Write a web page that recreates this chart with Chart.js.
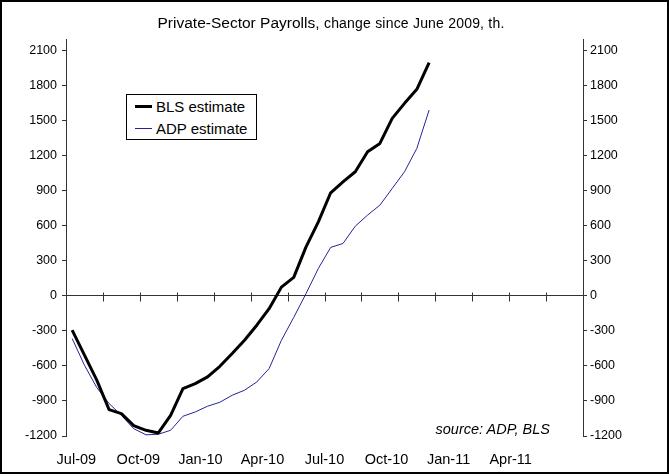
<!DOCTYPE html>
<html>
<head>
<meta charset="utf-8">
<title>Private-Sector Payrolls</title>
<script src="https://cdn.jsdelivr.net/npm/chart.js@4/dist/chart.umd.min.js"></script>
<style>
  html, body { margin: 0; padding: 0; background: #fff; }
  #wrap { position: relative; width: 669px; height: 476px; font-family: "Liberation Sans", Arial, sans-serif; color: #000; }
  #salesChart { position: absolute; left: 0; top: 0; }
  #frame { position: absolute; left: 0; top: 0; width: 665px; height: 470px; border: 2px solid #000; pointer-events: none; }
  #title { position: absolute; left: 0; top: 14px; width: 662px; text-align: center; line-height: 18px; white-space: nowrap; }
  #title .main { font-size: 15.5px; }
  #title .sub { font-size: 14px; letter-spacing: 0.2px; }
  #legend { position: absolute; left: 126px; top: 94px; border: 1px solid #000; background: #fff; padding: 0 9px 0 8px; }
  #legend .row { display: flex; align-items: center; height: 22px; font-size: 15px; }
  #legend .swatch { width: 17px; margin-right: 4px; }
  #source { position: absolute; right: 119px; top: 421px; font-size: 14.5px; font-style: italic; line-height: 17px; }
</style>
</head>
<body>
<div id="wrap">
  <canvas id="salesChart" width="669" height="476"></canvas>
  <div id="title"><span class="main">Private-Sector Payrolls,</span> <span class="sub">change since June 2009, th.</span></div>
  <div id="legend"></div>
  <div id="source">source: ADP, BLS</div>
  <div id="frame"></div>
</div>
<script>
// ========================
// DATA
// ========================
const months = [
  'Jul-09', 'Aug-09', 'Sep-09', 'Oct-09', 'Nov-09', 'Dec-09',
  'Jan-10', 'Feb-10', 'Mar-10', 'Apr-10', 'May-10', 'Jun-10',
  'Jul-10', 'Aug-10', 'Sep-10', 'Oct-10', 'Nov-10', 'Dec-10',
  'Jan-11', 'Feb-11', 'Mar-11', 'Apr-11', 'May-11', 'Jun-11',
  'Jul-11', 'Aug-11', 'Sep-11', 'Oct-11', 'Nov-11', 'Dec-11'
];

// cumulative change, thousands
const bls = [
  -293, -508, -722, -974, -1008, -1111, -1151, -1174, -1023, -794,
  -751, -694, -603, -494, -380, -251, -110, 75, 158, 420,
  634, 883, 977, 1063, 1234, 1306, 1520, 1649, 1769, 1997
];
const adp = [
  -365, -594, -785, -922, -1023, -1137, -1190, -1185, -1151, -1031,
  -994, -945, -911, -851, -808, -737, -623, -380, -185, 20,
  235, 415, 449, 597, 692, 777, 920, 1063, 1263, 1592
];

const yTicks = [-1200, -900, -600, -300, 0, 300, 600, 900, 1200, 1500, 1800, 2100];
const axisLabels = ['Jul-09', 'Oct-09', 'Jan-10', 'Apr-10', 'Jul-10', 'Oct-10', 'Jan-11', 'Apr-11'];

// ========================
// CONFIG
// ========================
const FONT = '"Liberation Sans", Arial, sans-serif';
const AXIS_COLOR = '#333';

// small crossing tick marks on the zero line, one every quarter
const zeroTicks = {
  id: 'zeroTicks',
  beforeDatasetsDraw(chart) {
    const { ctx, scales: { x, y } } = chart;
    const y0 = Math.round(y.getPixelForValue(0)) + 0.5;
    ctx.save();
    ctx.strokeStyle = AXIS_COLOR;
    ctx.lineWidth = 1;
    ctx.beginPath();
    for (let v = x.min + 3; v < x.max; v += 3) {
      const px = Math.round(x.getPixelForValue(v)) + 0.5;
      ctx.moveTo(px, y0 - 4);
      ctx.lineTo(px, y0 + 5);
    }
    ctx.stroke();
    ctx.restore();
  }
};

function yAxis(position, width, padding) {
  return {
    type: 'linear',
    position: position,
    min: -1200,
    max: 2200,
    afterBuildTicks: s => { s.ticks = yTicks.map(v => ({ value: v })); },
    afterFit: s => { s.width = width; },
    grid: { drawOnChartArea: false, tickLength: 4, tickColor: AXIS_COLOR },
    border: { color: AXIS_COLOR },
    ticks: {
      color: '#000',
      padding: padding,
      font: { family: FONT, size: 12.5 },
      callback: v => String(v)
    }
  };
}

// ========================
// CHART
// ========================
const ctx = document.getElementById('salesChart').getContext('2d');
const payrollChart = new Chart(ctx, {
  type: 'line',
  data: {
    datasets: [
      {
        label: 'BLS estimate',
        data: months.map((m, i) => ({ x: i, y: bls[i] })),
        borderColor: '#000',
        borderWidth: 3,
        borderJoinStyle: 'round',
        pointRadius: 0,
        xAxisID: 'x',
        yAxisID: 'y'
      },
      {
        label: 'ADP estimate',
        data: months.map((m, i) => ({ x: i, y: adp[i] })),
        borderColor: '#23239b',
        borderWidth: 1,
        pointRadius: 0,
        xAxisID: 'x',
        yAxisID: 'y'
      }
    ]
  },
  options: {
    responsive: false,
    animation: false,
    devicePixelRatio: 1,
    layout: { padding: { top: 39, left: 0, right: 0, bottom: 0 } },
    plugins: {
      legend: { display: false },
      title: { display: false },
      tooltip: { enabled: false }
    },
    scales: {
      // monthly slots, drawn as the zero line
      x: {
        type: 'linear',
        min: -0.5,
        max: 41.5,
        position: { y: 0 },
        ticks: { display: false },
        grid: { drawOnChartArea: false, drawTicks: false },
        border: { color: AXIS_COLOR }
      },
      // quarter labels along the bottom
      xl: {
        type: 'linear',
        position: 'bottom',
        min: -0.5,
        max: 24.5,
        afterBuildTicks: s => { s.ticks = axisLabels.map((t, i) => ({ value: i * 3 })); },
        afterFit: s => { s.height = 40; },
        grid: { display: false, drawTicks: false },
        border: { display: false },
        ticks: {
          autoSkip: false,
          maxRotation: 0,
          padding: 15,
          color: '#000',
          font: { family: FONT, size: 14.5 },
          callback: v => axisLabels[Math.round(v / 3)]
        }
      },
      y: yAxis('left', 66, 5),
      y2: yAxis('right', 86, 3)
    }
  },
  plugins: [zeroTicks]
});

// ========================
// LEGEND
// ========================
document.getElementById('legend').innerHTML = payrollChart.data.datasets
  .map(d => `<div class="row"><span class="swatch" style="height:${d.borderWidth}px;background:${d.borderColor}"></span>${d.label}</div>`)
  .join('');
</script>
</body>
</html>
